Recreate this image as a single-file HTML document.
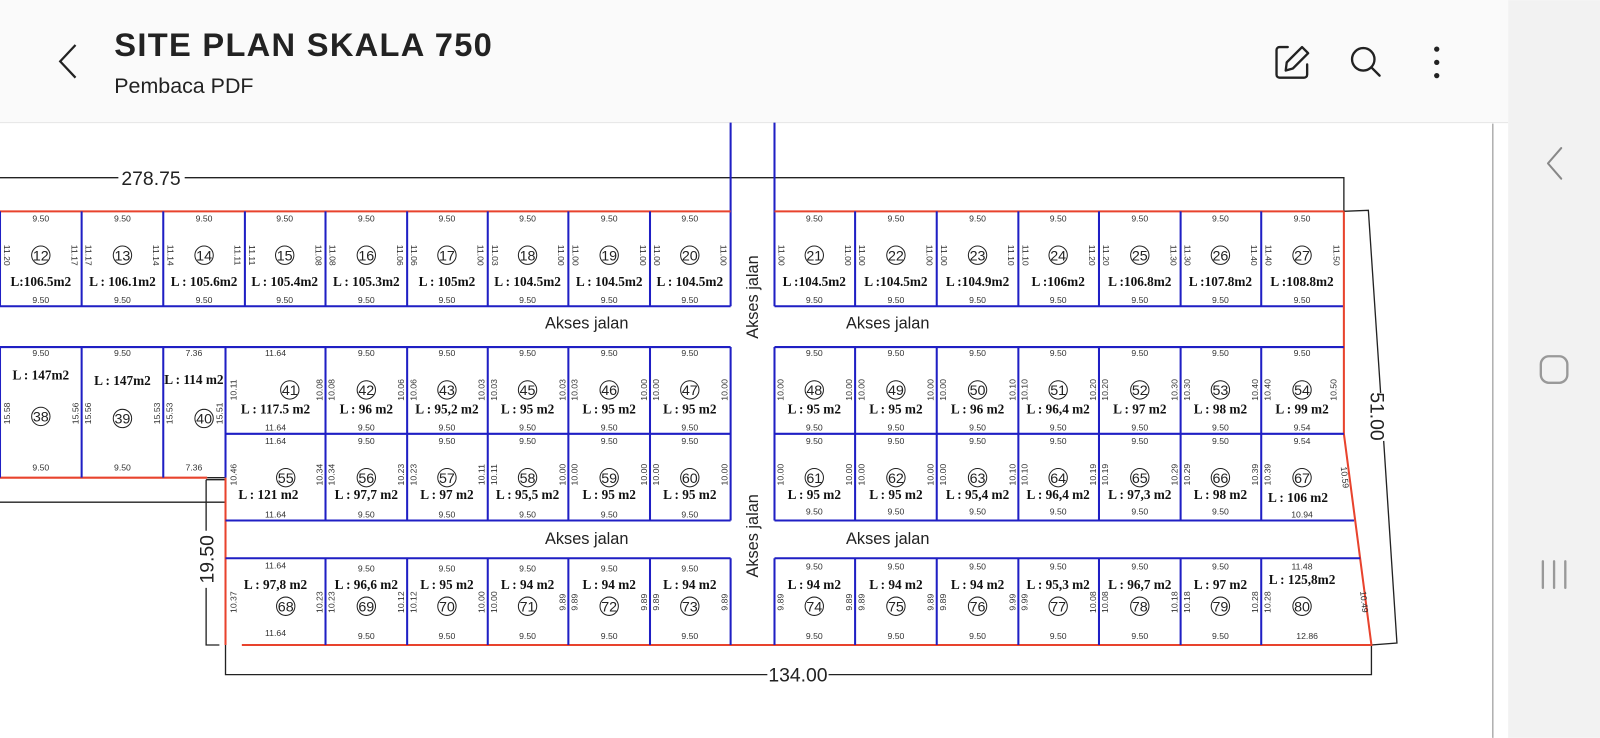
<!DOCTYPE html>
<html><head><meta charset="utf-8"><style>
html,body{margin:0;padding:0;background:#fff;width:1600px;height:738px;overflow:hidden}
svg{display:block}
.d{font:8.5px "Liberation Sans",sans-serif;fill:#333;text-anchor:middle}
.a{font:bold 13px "Liberation Serif",serif;fill:#111;text-anchor:middle}
.n{font:14px "Liberation Sans",sans-serif;fill:#222;text-anchor:middle}
.k{font:16px "Liberation Sans",sans-serif;fill:#222;text-anchor:middle}
.m{font:19px "Liberation Sans",sans-serif;fill:#222;text-anchor:middle}
.b{stroke:#1f1fc4;stroke-width:2;fill:none}
.r{stroke:#e8432d;stroke-width:2;fill:none}
.l{stroke:#222;stroke-width:1.3;fill:none}
</style></head><body>
<svg width="1600" height="738" viewBox="0 0 1568 723" xmlns="http://www.w3.org/2000/svg">
<rect x="0" y="0" width="1478" height="120" fill="#fafafa"/>
<line x1="0" y1="120" x2="1478" y2="120" stroke="#e8e8e8"/>
<rect x="1478" y="0" width="90" height="723" fill="#f2f2f2"/>
<line x1="1463" y1="121" x2="1463" y2="723" stroke="#888" stroke-width="1"/>
<polyline points="74,44 59,60 74,76" fill="none" stroke="#222" stroke-width="2.2"/>
<text x="112" y="55" font-family="Liberation Sans,sans-serif" font-weight="bold" font-size="32" fill="#222" textLength="370">SITE PLAN SKALA 750</text>
<text x="112" y="91" font-family="Liberation Sans,sans-serif" font-size="21" fill="#222">Pembaca PDF</text>
<g fill="none" stroke="#222" stroke-width="2.3" stroke-linecap="round" stroke-linejoin="round">
<path d="M1262 46 H1254 a3 3 0 0 0 -3 3 V73 a3 3 0 0 0 3 3 H1278 a3 3 0 0 0 3 -3 V63"/>
<path d="M1260 69 L1261 61 L1276 46 L1282 52 L1267 67 Z"/>
<circle cx="1336" cy="58" r="11"/><line x1="1344" y1="66" x2="1352" y2="74"/>
<polyline points="1530,145 1517,160 1530,175" stroke="#888" stroke-width="2"/>
<rect x="1510" y="349" width="26" height="26" rx="8" stroke="#999"/>
<line x1="1512" y1="550" x2="1512" y2="576" stroke="#999"/><line x1="1523" y1="550" x2="1523" y2="576" stroke="#999"/><line x1="1534" y1="550" x2="1534" y2="576" stroke="#999"/>
</g>
<circle cx="1408" cy="48" r="2.6" fill="#222"/><circle cx="1408" cy="61" r="2.6" fill="#222"/><circle cx="1408" cy="74" r="2.6" fill="#222"/>

<!-- dimension lines -->
<path class="l" d="M0 174 H116 M181 174 H1317 V207 L1341 206 L1353 385 M1356 432 L1369 630 L1344 632 V661 H812 M752 661 H221 V632"/>
<text class="m" x="148" y="181">278.75</text>
<text class="m" x="782" y="668">134.00</text>
<text class="m" transform="translate(1350 408) rotate(90)" x="0" y="7">51.00</text>
<path class="l" d="M0 492 H221 M203 468 H221 M202 470 H221 M202 470 V520 M202 576 V632 H215"/>
<text class="m" transform="translate(202 548) rotate(-90)" x="0" y="7">19.50</text>

<!-- road lines -->
<path class="b" d="M716 120 V300 M759 120 V300"/>

<!-- top row -->
<path class="r" d="M0 207 H716 M759 207 H1317"/>
<path class="b" d="M0 300 H716 M759 300 H1317 M0 207 V300 M80 207 V300 M160 207 V300 M240 207 V300 M319 207 V300 M399 207 V300 M478 207 V300 M557 207 V300 M637 207 V300 M838 207 V300 M918 207 V300 M998 207 V300 M1077 207 V300 M1157 207 V300 M1236 207 V300"/>
<path class="r" d="M1317 207 V425 L1344 632 H237"/>
<path class="r" d="M221 468 V632 M0 468 H203"/>

<!-- middle -->
<path class="b" d="M0 340 H716 M759 340 H1317 M221 425 H716 M759 425 H1317 M221 510 H716 M759 510 H1327 M0 340 V468 M80 340 V468 M160 340 V468 M221 340 V468 M319 340 V510 M399 340 V510 M478 340 V510 M557 340 V510 M637 340 V510 M716 340 V510 M759 340 V510 M838 340 V510 M918 340 V510 M998 340 V510 M1077 340 V510 M1157 340 V510 M1236 340 V510"/>
<!-- bottom -->
<path class="b" d="M221 547 H716 M759 547 H1333 M319 547 V632 M399 547 V632 M478 547 V632 M557 547 V632 M637 547 V632 M716 547 V632 M759 547 V632 M838 547 V632 M918 547 V632 M998 547 V632 M1077 547 V632 M1157 547 V632 M1236 547 V632"/>

<g fill="none" stroke="#222" stroke-width="1">
<circle cx="40" cy="250" r="9"/><circle cx="120" cy="250" r="9"/><circle cx="200" cy="250" r="9"/><circle cx="279" cy="250" r="9"/><circle cx="359" cy="250" r="9"/><circle cx="438" cy="250" r="9"/><circle cx="517" cy="250" r="9"/><circle cx="597" cy="250" r="9"/><circle cx="676" cy="250" r="9"/>
<circle cx="798" cy="250" r="9"/><circle cx="878" cy="250" r="9"/><circle cx="958" cy="250" r="9"/><circle cx="1037" cy="250" r="9"/><circle cx="1117" cy="250" r="9"/><circle cx="1196" cy="250" r="9"/><circle cx="1276" cy="250" r="9"/>
<circle cx="40" cy="408" r="9"/><circle cx="120" cy="410" r="9"/><circle cx="200" cy="410" r="9"/>
<circle cx="284" cy="382" r="9"/><circle cx="359" cy="382" r="9"/><circle cx="438" cy="382" r="9"/><circle cx="517" cy="382" r="9"/><circle cx="597" cy="382" r="9"/><circle cx="676" cy="382" r="9"/>
<circle cx="798" cy="382" r="9"/><circle cx="878" cy="382" r="9"/><circle cx="958" cy="382" r="9"/><circle cx="1037" cy="382" r="9"/><circle cx="1117" cy="382" r="9"/><circle cx="1196" cy="382" r="9"/><circle cx="1276" cy="382" r="9"/>
<circle cx="280" cy="468" r="9"/><circle cx="359" cy="468" r="9"/><circle cx="438" cy="468" r="9"/><circle cx="517" cy="468" r="9"/><circle cx="597" cy="468" r="9"/><circle cx="676" cy="468" r="9"/>
<circle cx="798" cy="468" r="9"/><circle cx="878" cy="468" r="9"/><circle cx="958" cy="468" r="9"/><circle cx="1037" cy="468" r="9"/><circle cx="1117" cy="468" r="9"/><circle cx="1196" cy="468" r="9"/><circle cx="1276" cy="468" r="9"/>
<circle cx="280" cy="594" r="9"/><circle cx="359" cy="594" r="9"/><circle cx="438" cy="594" r="9"/><circle cx="517" cy="594" r="9"/><circle cx="597" cy="594" r="9"/><circle cx="676" cy="594" r="9"/>
<circle cx="798" cy="594" r="9"/><circle cx="878" cy="594" r="9"/><circle cx="958" cy="594" r="9"/><circle cx="1037" cy="594" r="9"/><circle cx="1117" cy="594" r="9"/><circle cx="1196" cy="594" r="9"/><circle cx="1276" cy="594" r="9"/>
</g>

<!-- top row texts -->
<g class="n">
<text class="n" x="40" y="255">12</text><text class="n" x="120" y="255">13</text><text class="n" x="200" y="255">14</text><text class="n" x="279" y="255">15</text><text class="n" x="359" y="255">16</text><text class="n" x="438" y="255">17</text><text class="n" x="517" y="255">18</text><text class="n" x="597" y="255">19</text><text class="n" x="676" y="255">20</text>
<text class="n" x="798" y="255">21</text><text class="n" x="878" y="255">22</text><text class="n" x="958" y="255">23</text><text class="n" x="1037" y="255">24</text><text class="n" x="1117" y="255">25</text><text class="n" x="1196" y="255">26</text><text class="n" x="1276" y="255">27</text>
<text class="n" x="40" y="413">38</text><text class="n" x="120" y="415">39</text><text class="n" x="200" y="415">40</text>
<text class="n" x="284" y="387">41</text><text class="n" x="359" y="387">42</text><text class="n" x="438" y="387">43</text><text class="n" x="517" y="387">45</text><text class="n" x="597" y="387">46</text><text class="n" x="676" y="387">47</text>
<text class="n" x="798" y="387">48</text><text class="n" x="878" y="387">49</text><text class="n" x="958" y="387">50</text><text class="n" x="1037" y="387">51</text><text class="n" x="1117" y="387">52</text><text class="n" x="1196" y="387">53</text><text class="n" x="1276" y="387">54</text>
<text class="n" x="280" y="473">55</text><text class="n" x="359" y="473">56</text><text class="n" x="438" y="473">57</text><text class="n" x="517" y="473">58</text><text class="n" x="597" y="473">59</text><text class="n" x="676" y="473">60</text>
<text class="n" x="798" y="473">61</text><text class="n" x="878" y="473">62</text><text class="n" x="958" y="473">63</text><text class="n" x="1037" y="473">64</text><text class="n" x="1117" y="473">65</text><text class="n" x="1196" y="473">66</text><text class="n" x="1276" y="473">67</text>
<text class="n" x="280" y="599">68</text><text class="n" x="359" y="599">69</text><text class="n" x="438" y="599">70</text><text class="n" x="517" y="599">71</text><text class="n" x="597" y="599">72</text><text class="n" x="676" y="599">73</text>
<text class="n" x="798" y="599">74</text><text class="n" x="878" y="599">75</text><text class="n" x="958" y="599">76</text><text class="n" x="1037" y="599">77</text><text class="n" x="1117" y="599">78</text><text class="n" x="1196" y="599">79</text><text class="n" x="1276" y="599">80</text>
</g>

<!-- areas -->
<text class="a" x="40" y="280">L:106.5m2</text><text class="a" x="120" y="280">L : 106.1m2</text><text class="a" x="200" y="280">L : 105.6m2</text><text class="a" x="279" y="280">L : 105.4m2</text><text class="a" x="359" y="280">L : 105.3m2</text><text class="a" x="438" y="280">L : 105m2</text><text class="a" x="517" y="280">L : 104.5m2</text><text class="a" x="597" y="280">L : 104.5m2</text><text class="a" x="676" y="280">L : 104.5m2</text>
<text class="a" x="798" y="280">L :104.5m2</text><text class="a" x="878" y="280">L :104.5m2</text><text class="a" x="958" y="280">L :104.9m2</text><text class="a" x="1037" y="280">L :106m2</text><text class="a" x="1117" y="280">L :106.8m2</text><text class="a" x="1196" y="280">L :107.8m2</text><text class="a" x="1276" y="280">L :108.8m2</text>
<text class="a" x="40" y="372">L : 147m2</text><text class="a" x="120" y="377">L : 147m2</text><text class="a" x="190" y="376">L : 114 m2</text>
<text class="a" x="270" y="405">L : 117.5 m2</text><text class="a" x="359" y="405">L : 96 m2</text><text class="a" x="438" y="405">L : 95,2 m2</text><text class="a" x="517" y="405">L : 95 m2</text><text class="a" x="597" y="405">L : 95 m2</text><text class="a" x="676" y="405">L : 95 m2</text>
<text class="a" x="798" y="405">L : 95 m2</text><text class="a" x="878" y="405">L : 95 m2</text><text class="a" x="958" y="405">L : 96 m2</text><text class="a" x="1037" y="405">L : 96,4 m2</text><text class="a" x="1117" y="405">L : 97 m2</text><text class="a" x="1196" y="405">L : 98 m2</text><text class="a" x="1276" y="405">L : 99 m2</text>
<text class="a" x="263" y="489">L : 121 m2</text><text class="a" x="359" y="489">L : 97,7 m2</text><text class="a" x="438" y="489">L : 97 m2</text><text class="a" x="517" y="489">L : 95,5 m2</text><text class="a" x="597" y="489">L : 95 m2</text><text class="a" x="676" y="489">L : 95 m2</text>
<text class="a" x="798" y="489">L : 95 m2</text><text class="a" x="878" y="489">L : 95 m2</text><text class="a" x="958" y="489">L : 95,4 m2</text><text class="a" x="1037" y="489">L : 96,4 m2</text><text class="a" x="1117" y="489">L : 97,3 m2</text><text class="a" x="1196" y="489">L : 98 m2</text><text class="a" x="1272" y="492">L : 106 m2</text>
<text class="a" x="270" y="577">L : 97,8 m2</text><text class="a" x="359" y="577">L : 96,6 m2</text><text class="a" x="438" y="577">L : 95 m2</text><text class="a" x="517" y="577">L : 94 m2</text><text class="a" x="597" y="577">L : 94 m2</text><text class="a" x="676" y="577">L : 94 m2</text>
<text class="a" x="798" y="577">L : 94 m2</text><text class="a" x="878" y="577">L : 94 m2</text><text class="a" x="958" y="577">L : 94 m2</text><text class="a" x="1037" y="577">L : 95,3 m2</text><text class="a" x="1117" y="577">L : 96,7 m2</text><text class="a" x="1196" y="577">L : 97 m2</text><text class="a" x="1276" y="572">L : 125,8m2</text>

<!-- top/bottom dims -->
<g>
<text class="d" x="40" y="217">9.50</text><text class="d" x="120" y="217">9.50</text><text class="d" x="200" y="217">9.50</text><text class="d" x="279" y="217">9.50</text><text class="d" x="359" y="217">9.50</text><text class="d" x="438" y="217">9.50</text><text class="d" x="517" y="217">9.50</text><text class="d" x="597" y="217">9.50</text><text class="d" x="676" y="217">9.50</text>
<text class="d" x="798" y="217">9.50</text><text class="d" x="878" y="217">9.50</text><text class="d" x="958" y="217">9.50</text><text class="d" x="1037" y="217">9.50</text><text class="d" x="1117" y="217">9.50</text><text class="d" x="1196" y="217">9.50</text><text class="d" x="1276" y="217">9.50</text>
<text class="d" x="40" y="297">9.50</text><text class="d" x="120" y="297">9.50</text><text class="d" x="200" y="297">9.50</text><text class="d" x="279" y="297">9.50</text><text class="d" x="359" y="297">9.50</text><text class="d" x="438" y="297">9.50</text><text class="d" x="517" y="297">9.50</text><text class="d" x="597" y="297">9.50</text><text class="d" x="676" y="297">9.50</text>
<text class="d" x="798" y="297">9.50</text><text class="d" x="878" y="297">9.50</text><text class="d" x="958" y="297">9.50</text><text class="d" x="1037" y="297">9.50</text><text class="d" x="1117" y="297">9.50</text><text class="d" x="1196" y="297">9.50</text><text class="d" x="1276" y="297">9.50</text>
<text class="d" x="40" y="349">9.50</text><text class="d" x="120" y="349">9.50</text><text class="d" x="190" y="349">7.36</text><text class="d" x="40" y="461">9.50</text><text class="d" x="120" y="461">9.50</text><text class="d" x="190" y="461">7.36</text>
<text class="d" x="270" y="349">11.64</text><text class="d" x="359" y="349">9.50</text><text class="d" x="438" y="349">9.50</text><text class="d" x="517" y="349">9.50</text><text class="d" x="597" y="349">9.50</text><text class="d" x="676" y="349">9.50</text>
<text class="d" x="798" y="349">9.50</text><text class="d" x="878" y="349">9.50</text><text class="d" x="958" y="349">9.50</text><text class="d" x="1037" y="349">9.50</text><text class="d" x="1117" y="349">9.50</text><text class="d" x="1196" y="349">9.50</text><text class="d" x="1276" y="349">9.50</text>
<text class="d" x="270" y="422">11.64</text><text class="d" x="359" y="422">9.50</text><text class="d" x="438" y="422">9.50</text><text class="d" x="517" y="422">9.50</text><text class="d" x="597" y="422">9.50</text><text class="d" x="676" y="422">9.50</text>
<text class="d" x="798" y="422">9.50</text><text class="d" x="878" y="422">9.50</text><text class="d" x="958" y="422">9.50</text><text class="d" x="1037" y="422">9.50</text><text class="d" x="1117" y="422">9.50</text><text class="d" x="1196" y="422">9.50</text><text class="d" x="1276" y="422">9.54</text>
<text class="d" x="270" y="435">11.64</text><text class="d" x="359" y="435">9.50</text><text class="d" x="438" y="435">9.50</text><text class="d" x="517" y="435">9.50</text><text class="d" x="597" y="435">9.50</text><text class="d" x="676" y="435">9.50</text>
<text class="d" x="798" y="435">9.50</text><text class="d" x="878" y="435">9.50</text><text class="d" x="958" y="435">9.50</text><text class="d" x="1037" y="435">9.50</text><text class="d" x="1117" y="435">9.50</text><text class="d" x="1196" y="435">9.50</text><text class="d" x="1276" y="435">9.54</text>
<text class="d" x="270" y="507">11.64</text><text class="d" x="359" y="507">9.50</text><text class="d" x="438" y="507">9.50</text><text class="d" x="517" y="507">9.50</text><text class="d" x="597" y="507">9.50</text><text class="d" x="676" y="507">9.50</text>
<text class="d" x="798" y="504">9.50</text><text class="d" x="878" y="504">9.50</text><text class="d" x="958" y="504">9.50</text><text class="d" x="1037" y="504">9.50</text><text class="d" x="1117" y="504">9.50</text><text class="d" x="1196" y="504">9.50</text><text class="d" x="1276" y="507">10.94</text>
<text class="d" x="270" y="557">11.64</text><text class="d" x="359" y="560">9.50</text><text class="d" x="438" y="560">9.50</text><text class="d" x="517" y="560">9.50</text><text class="d" x="597" y="560">9.50</text><text class="d" x="676" y="560">9.50</text>
<text class="d" x="798" y="558">9.50</text><text class="d" x="878" y="558">9.50</text><text class="d" x="958" y="558">9.50</text><text class="d" x="1037" y="558">9.50</text><text class="d" x="1117" y="558">9.50</text><text class="d" x="1196" y="558">9.50</text><text class="d" x="1276" y="558">11.48</text>
<text class="d" x="270" y="623">11.64</text><text class="d" x="359" y="626">9.50</text><text class="d" x="438" y="626">9.50</text><text class="d" x="517" y="626">9.50</text><text class="d" x="597" y="626">9.50</text><text class="d" x="676" y="626">9.50</text>
<text class="d" x="798" y="626">9.50</text><text class="d" x="878" y="626">9.50</text><text class="d" x="958" y="626">9.50</text><text class="d" x="1037" y="626">9.50</text><text class="d" x="1117" y="626">9.50</text><text class="d" x="1196" y="626">9.50</text><text class="d" x="1281" y="626">12.86</text>
</g>

<!-- side dims top row (rotate 90) -->
<g class="d">
<text class="d" transform="translate(4 250) rotate(90)">11.20</text><text class="d" transform="translate(70 250) rotate(90)">11.17</text>
<text class="d" transform="translate(84 250) rotate(90)">11.17</text><text class="d" transform="translate(150 250) rotate(90)">11.14</text>
<text class="d" transform="translate(164 250) rotate(90)">11.14</text><text class="d" transform="translate(230 250) rotate(90)">11.11</text>
<text class="d" transform="translate(244 250) rotate(90)">11.11</text><text class="d" transform="translate(309 250) rotate(90)">11.08</text>
<text class="d" transform="translate(323 250) rotate(90)">11.08</text><text class="d" transform="translate(389 250) rotate(90)">11.06</text>
<text class="d" transform="translate(403 250) rotate(90)">11.06</text><text class="d" transform="translate(468 250) rotate(90)">11.00</text>
<text class="d" transform="translate(482 250) rotate(90)">11.03</text><text class="d" transform="translate(547 250) rotate(90)">11.00</text>
<text class="d" transform="translate(561 250) rotate(90)">11.00</text><text class="d" transform="translate(627 250) rotate(90)">11.00</text>
<text class="d" transform="translate(641 250) rotate(90)">11.00</text><text class="d" transform="translate(706 250) rotate(90)">11.00</text>
<text class="d" transform="translate(763 250) rotate(90)">11.00</text><text class="d" transform="translate(828 250) rotate(90)">11.00</text>
<text class="d" transform="translate(842 250) rotate(90)">11.00</text><text class="d" transform="translate(908 250) rotate(90)">11.00</text>
<text class="d" transform="translate(922 250) rotate(90)">11.00</text><text class="d" transform="translate(988 250) rotate(90)">11.10</text>
<text class="d" transform="translate(1002 250) rotate(90)">11.10</text><text class="d" transform="translate(1067 250) rotate(90)">11.20</text>
<text class="d" transform="translate(1081 250) rotate(90)">11.20</text><text class="d" transform="translate(1147 250) rotate(90)">11.30</text>
<text class="d" transform="translate(1161 250) rotate(90)">11.30</text><text class="d" transform="translate(1226 250) rotate(90)">11.40</text>
<text class="d" transform="translate(1240 250) rotate(90)">11.40</text><text class="d" transform="translate(1307 250) rotate(90)">11.50</text>
</g>
<!-- side dims others (rotate -90) -->
<g>
<text class="d" transform="translate(10 405) rotate(-90)">15.58</text><text class="d" transform="translate(77 405) rotate(-90)">15.56</text>
<text class="d" transform="translate(89 405) rotate(-90)">15.56</text><text class="d" transform="translate(157 405) rotate(-90)">15.53</text>
<text class="d" transform="translate(169 405) rotate(-90)">15.53</text><text class="d" transform="translate(218 405) rotate(-90)">15.51</text>
<text class="d" transform="translate(232 382) rotate(-90)">10.11</text><text class="d" transform="translate(316 382) rotate(-90)">10.08</text>
<text class="d" transform="translate(328 382) rotate(-90)">10.08</text><text class="d" transform="translate(396 382) rotate(-90)">10.06</text>
<text class="d" transform="translate(408 382) rotate(-90)">10.06</text><text class="d" transform="translate(475 382) rotate(-90)">10.03</text>
<text class="d" transform="translate(487 382) rotate(-90)">10.03</text><text class="d" transform="translate(554 382) rotate(-90)">10.03</text>
<text class="d" transform="translate(566 382) rotate(-90)">10.03</text><text class="d" transform="translate(634 382) rotate(-90)">10.00</text>
<text class="d" transform="translate(646 382) rotate(-90)">10.00</text><text class="d" transform="translate(713 382) rotate(-90)">10.00</text>
<text class="d" transform="translate(768 382) rotate(-90)">10.00</text><text class="d" transform="translate(835 382) rotate(-90)">10.00</text>
<text class="d" transform="translate(847 382) rotate(-90)">10.00</text><text class="d" transform="translate(915 382) rotate(-90)">10.00</text>
<text class="d" transform="translate(927 382) rotate(-90)">10.00</text><text class="d" transform="translate(995 382) rotate(-90)">10.10</text>
<text class="d" transform="translate(1007 382) rotate(-90)">10.10</text><text class="d" transform="translate(1074 382) rotate(-90)">10.20</text>
<text class="d" transform="translate(1086 382) rotate(-90)">10.20</text><text class="d" transform="translate(1154 382) rotate(-90)">10.30</text>
<text class="d" transform="translate(1166 382) rotate(-90)">10.30</text><text class="d" transform="translate(1233 382) rotate(-90)">10.40</text>
<text class="d" transform="translate(1245 382) rotate(-90)">10.40</text><text class="d" transform="translate(1310 382) rotate(-90)">10.50</text>

<text class="d" transform="translate(232 465) rotate(-90)">10.46</text><text class="d" transform="translate(316 465) rotate(-90)">10.34</text>
<text class="d" transform="translate(328 465) rotate(-90)">10.34</text><text class="d" transform="translate(396 465) rotate(-90)">10.23</text>
<text class="d" transform="translate(408 465) rotate(-90)">10.23</text><text class="d" transform="translate(475 465) rotate(-90)">10.11</text>
<text class="d" transform="translate(487 465) rotate(-90)">10.11</text><text class="d" transform="translate(554 465) rotate(-90)">10.00</text>
<text class="d" transform="translate(566 465) rotate(-90)">10.00</text><text class="d" transform="translate(634 465) rotate(-90)">10.00</text>
<text class="d" transform="translate(646 465) rotate(-90)">10.00</text><text class="d" transform="translate(713 465) rotate(-90)">10.00</text>
<text class="d" transform="translate(768 465) rotate(-90)">10.00</text><text class="d" transform="translate(835 465) rotate(-90)">10.00</text>
<text class="d" transform="translate(847 465) rotate(-90)">10.00</text><text class="d" transform="translate(915 465) rotate(-90)">10.00</text>
<text class="d" transform="translate(927 465) rotate(-90)">10.00</text><text class="d" transform="translate(995 465) rotate(-90)">10.10</text>
<text class="d" transform="translate(1007 465) rotate(-90)">10.10</text><text class="d" transform="translate(1074 465) rotate(-90)">10.19</text>
<text class="d" transform="translate(1086 465) rotate(-90)">10.19</text><text class="d" transform="translate(1154 465) rotate(-90)">10.29</text>
<text class="d" transform="translate(1166 465) rotate(-90)">10.29</text><text class="d" transform="translate(1233 465) rotate(-90)">10.39</text>
<text class="d" transform="translate(1245 465) rotate(-90)">10.39</text><text class="d" transform="translate(1315 468) rotate(84)">10.59</text>

<text class="d" transform="translate(232 590) rotate(-90)">10.37</text><text class="d" transform="translate(316 590) rotate(-90)">10.23</text>
<text class="d" transform="translate(328 590) rotate(-90)">10.23</text><text class="d" transform="translate(396 590) rotate(-90)">10.12</text>
<text class="d" transform="translate(408 590) rotate(-90)">10.12</text><text class="d" transform="translate(475 590) rotate(-90)">10.00</text>
<text class="d" transform="translate(487 590) rotate(-90)">10.00</text><text class="d" transform="translate(554 590) rotate(-90)">9.89</text>
<text class="d" transform="translate(566 590) rotate(-90)">9.89</text><text class="d" transform="translate(634 590) rotate(-90)">9.89</text>
<text class="d" transform="translate(646 590) rotate(-90)">9.89</text><text class="d" transform="translate(713 590) rotate(-90)">9.89</text>
<text class="d" transform="translate(768 590) rotate(-90)">9.89</text><text class="d" transform="translate(835 590) rotate(-90)">9.89</text>
<text class="d" transform="translate(847 590) rotate(-90)">9.89</text><text class="d" transform="translate(915 590) rotate(-90)">9.89</text>
<text class="d" transform="translate(927 590) rotate(-90)">9.89</text><text class="d" transform="translate(995 590) rotate(-90)">9.99</text>
<text class="d" transform="translate(1007 590) rotate(-90)">9.99</text><text class="d" transform="translate(1074 590) rotate(-90)">10.08</text>
<text class="d" transform="translate(1086 590) rotate(-90)">10.08</text><text class="d" transform="translate(1154 590) rotate(-90)">10.18</text>
<text class="d" transform="translate(1166 590) rotate(-90)">10.18</text><text class="d" transform="translate(1233 590) rotate(-90)">10.28</text>
<text class="d" transform="translate(1245 590) rotate(-90)">10.28</text><text class="d" transform="translate(1334 590) rotate(84)">10.49</text>
</g>

<!-- Akses jalan -->
<text class="k" x="575" y="322">Akses jalan</text>
<text class="k" x="870" y="322">Akses jalan</text>
<text class="k" x="575" y="533">Akses jalan</text>
<text class="k" x="870" y="533">Akses jalan</text>
<text class="k" transform="translate(743 291) rotate(-90)">Akses jalan</text>
<text class="k" transform="translate(743 525) rotate(-90)">Akses jalan</text>
</svg>
</body></html>
